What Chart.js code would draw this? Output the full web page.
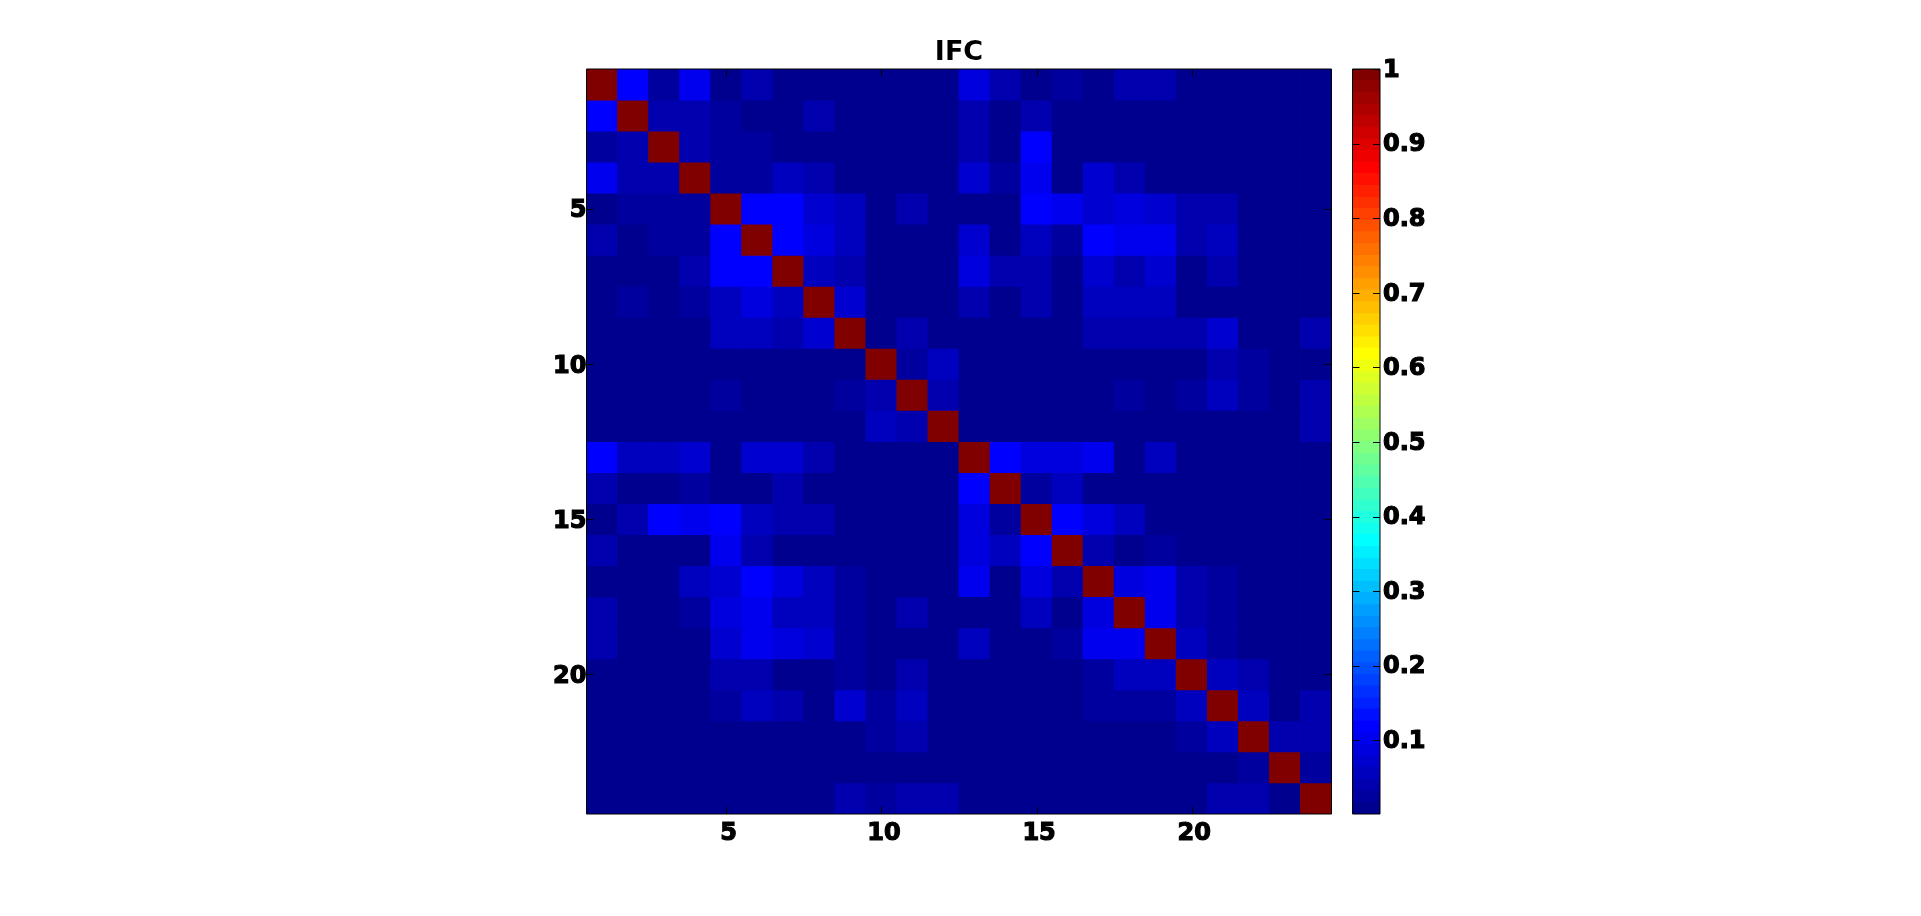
<!DOCTYPE html>
<html>
<head>
<meta charset="utf-8">
<title>IFC</title>
<script src="https://cdn.jsdelivr.net/npm/chart.js@4"></script>
<style>
  html, body { margin: 0; padding: 0; background: #fff; overflow: hidden; }
  canvas { position: absolute; top: 0; }
  #matrix_chart { left: 0; }
  #colorbar_chart { left: 1340px; }
</style>
</head>
<body>
<canvas id="matrix_chart" width="1921" height="916"></canvas>
<canvas id="colorbar_chart" width="120" height="916"></canvas>
<script>
const titleText = "IFC";
const regions = [1,2,3,4,5,6,7,8,9,10,11,12,13,14,15,16,17,18,19,20,21,22,23,24];
const axisTicks = [5,10,15,20];
const colorbarTicks = [0.1,0.2,0.3,0.4,0.5,0.6,0.7,0.8,0.9,1];

const row1  = [1,.118,.025,.103,.009,.04,.009,.009,.009,.009,.009,.009,.087,.04,.009,.025,.009,.04,.04,.009,.009,.009,.009,.009];
const row2  = [.118,1,.04,.04,.025,.009,.009,.04,.009,.009,.009,.009,.04,.009,.04,.009,.009,.009,.009,.009,.009,.009,.009,.009];
const row3  = [.025,.04,1,.04,.025,.025,.009,.009,.009,.009,.009,.009,.04,.009,.118,.009,.009,.009,.009,.009,.009,.009,.009,.009];
const row4  = [.103,.04,.04,1,.025,.025,.056,.04,.009,.009,.009,.009,.071,.025,.103,.009,.071,.04,.009,.009,.009,.009,.009,.009];
const row5  = [.009,.025,.025,.025,1,.118,.118,.071,.056,.009,.04,.009,.009,.009,.118,.103,.071,.087,.071,.04,.04,.009,.009,.009];
const row6  = [.04,.009,.025,.025,.118,1,.118,.087,.056,.009,.009,.009,.071,.009,.056,.025,.118,.103,.103,.04,.056,.009,.009,.009];
const row7  = [.009,.009,.009,.04,.118,.118,1,.056,.04,.009,.009,.009,.087,.04,.04,.009,.071,.04,.071,.009,.04,.009,.009,.009];
const row8  = [.009,.025,.009,.025,.056,.087,.056,1,.071,.009,.009,.009,.04,.009,.04,.009,.056,.056,.056,.009,.009,.009,.009,.009];
const row9  = [.009,.009,.009,.009,.056,.056,.04,.071,1,.009,.04,.009,.009,.009,.009,.009,.04,.04,.04,.04,.071,.009,.009,.04];
const row10 = [.009,.009,.009,.009,.009,.009,.009,.009,.009,1,.025,.056,.009,.009,.009,.009,.009,.009,.009,.009,.04,.025,.009,.009];
const row11 = [.009,.009,.009,.009,.025,.009,.009,.009,.025,.04,1,.04,.009,.009,.009,.009,.009,.025,.009,.025,.056,.025,.009,.04];
const row12 = [.009,.009,.009,.009,.009,.009,.009,.009,.009,.056,.04,1,.009,.009,.009,.009,.009,.009,.009,.009,.009,.009,.009,.04];
const row13 = [.118,.056,.056,.071,.009,.071,.071,.04,.009,.009,.009,.009,1,.118,.087,.087,.103,.009,.056,.009,.009,.009,.009,.009];
const row14 = [.04,.009,.009,.025,.009,.009,.04,.009,.009,.009,.009,.009,.118,1,.025,.056,.009,.009,.009,.009,.009,.009,.009,.009];
const row15 = [.009,.04,.118,.103,.118,.056,.04,.04,.009,.009,.009,.009,.087,.025,1,.118,.087,.056,.009,.009,.009,.009,.009,.009];
const row16 = [.04,.009,.009,.009,.103,.04,.009,.009,.009,.009,.009,.009,.087,.056,.118,1,.04,.009,.025,.009,.009,.009,.009,.009];
const row17 = [.009,.009,.009,.056,.071,.118,.087,.056,.025,.009,.009,.009,.103,.009,.087,.04,1,.087,.103,.04,.025,.009,.009,.009];
const row18 = [.04,.009,.009,.025,.087,.103,.056,.056,.025,.009,.04,.009,.009,.009,.056,.009,.087,1,.103,.04,.025,.009,.009,.009];
const row19 = [.04,.009,.009,.009,.071,.103,.087,.071,.025,.009,.009,.009,.056,.009,.009,.025,.103,.103,1,.056,.025,.009,.009,.009];
const row20 = [.009,.009,.009,.009,.04,.04,.009,.009,.025,.009,.04,.009,.009,.009,.009,.009,.025,.056,.056,1,.056,.04,.009,.009];
const row21 = [.009,.009,.009,.009,.025,.056,.04,.009,.071,.025,.056,.009,.009,.009,.009,.009,.025,.025,.025,.056,1,.056,.009,.04];
const row22 = [.009,.009,.009,.009,.009,.009,.009,.009,.009,.025,.04,.009,.009,.009,.009,.009,.009,.009,.009,.025,.056,1,.04,.04];
const row23 = [.009,.009,.009,.009,.009,.009,.009,.009,.009,.009,.009,.009,.009,.009,.009,.009,.009,.009,.009,.009,.009,.025,1,.025];
const row24 = [.009,.009,.009,.009,.009,.009,.009,.009,.04,.025,.04,.04,.009,.009,.009,.009,.009,.009,.009,.009,.04,.04,.009,1];
const matrixRows = [row1,row2,row3,row4,row5,row6,row7,row8,row9,row10,row11,row12,row13,row14,row15,row16,row17,row18,row19,row20,row21,row22,row23,row24];

// lower edge of each colorbar band, top edge of the last one is 1
const bandEdges = [.0012,.017,.032,.048,.064,.079,.095,.11,.126,.142,.157,.173,.188,.204,.22,.235,.251,.266,.282,.298,.313,.329,.344,.36,.376,.391,.407,.422,.438,.454,.469,.485,.501,.516,.532,.548,.563,.579,.594,.61,.626,.641,.657,.672,.688,.704,.719,.735,.75,.766,.782,.797,.813,.828,.844,.86,.875,.891,.906,.922,.938,.953,.969,.984,1];
const jet = [
  "#00008f","#00009f","#0000af","#0000bf","#0000cf","#0000df","#0000ef","#0000ff",
  "#0010ff","#0020ff","#0030ff","#0040ff","#0050ff","#0060ff","#0070ff","#0080ff",
  "#008fff","#009fff","#00afff","#00bfff","#00cfff","#00dfff","#00efff","#00ffff",
  "#10ffef","#20ffdf","#30ffcf","#40ffbf","#50ffaf","#60ff9f","#70ff8f","#80ff80",
  "#8fff70","#9fff60","#afff50","#bfff40","#cfff30","#dfff20","#efff10","#ffff00",
  "#ffef00","#ffdf00","#ffcf00","#ffbf00","#ffaf00","#ff9f00","#ff8f00","#ff8000",
  "#ff7000","#ff6000","#ff5000","#ff4000","#ff3000","#ff2000","#ff1000","#ff0000",
  "#ef0000","#df0000","#cf0000","#bf0000","#af0000","#9f0000","#8f0000","#800000"
];

function colorOf(value) {
  let i = jet.length - 1;
  while (i > 0 && value < bandEdges[i]) i--;
  return jet[i];
}

// box round the plot and the short inward ticks, matlab style
const boxTicks = {
  id: "boxTicks",
  afterDatasetsDraw(chart) {
    const { ctx, chartArea: a, scales } = chart;
    const len = 7;
    ctx.save();
    ctx.strokeStyle = "#000";
    ctx.lineWidth = 1;
    ctx.beginPath();
    if (scales.x.options.display) {
      scales.x.ticks.forEach(t => {
        const px = Math.round(scales.x.getPixelForValue(t.value)) + 0.5;
        ctx.moveTo(px, a.top); ctx.lineTo(px, a.top + len);
        ctx.moveTo(px, a.bottom); ctx.lineTo(px, a.bottom - len);
      });
    }
    scales.y.ticks.forEach(t => {
      const py = Math.round(scales.y.getPixelForValue(t.value)) + 0.5;
      ctx.moveTo(a.left, py); ctx.lineTo(a.left + len, py);
      ctx.moveTo(a.right, py); ctx.lineTo(a.right - len, py);
    });
    ctx.rect(a.left, a.top, a.right - a.left, a.bottom - a.top);
    ctx.stroke();
    ctx.restore();
  }
};

const tickFont = { family: "'DejaVu Sans'", weight: "bold", size: 24 };

const matrixData = {
  datasets: matrixRows.map((row, r) => ({
    data: row.map((v, c) => ({ x: regions[c], y: [regions[r] - 0.5, regions[r] + 0.5] })),
    backgroundColor: row.map(colorOf),
    borderWidth: 0,
    inflateAmount: 0.4,
    barPercentage: 1,
    categoryPercentage: 1,
    grouped: false
  }))
};

new Chart(document.getElementById("matrix_chart"), {
  type: "bar",
  data: matrixData,
  plugins: [boxTicks],
  options: {
    responsive: false,
    animation: false,
    layout: { padding: { right: 589.5 } },
    plugins: {
      legend: { display: false },
      tooltip: { enabled: false },
      title: {
        display: true,
        text: titleText,
        fullSize: false,
        color: "#000",
        font: { family: "'DejaVu Sans'", weight: "bold", size: 27, lineHeight: 1 },
        padding: { top: 39, bottom: 3 }
      }
    },
    scales: {
      x: {
        type: "linear",
        offset: false,
        min: 0.5,
        max: 24.5,
        grid: { display: false, drawTicks: false },
        border: { display: false },
        afterBuildTicks: s => { s.ticks = axisTicks.map(value => ({ value })); },
        afterFit: s => { s.height = 102; },
        ticks: { color: "#000", font: tickFont, padding: 5, labelOffset: 2.5, maxRotation: 0, autoSkip: false, textStrokeColor: "#000", textStrokeWidth: 1.2, callback: v => String(v) }
      },
      y: {
        type: "linear",
        reverse: true,
        min: 0.5,
        max: 24.5,
        grid: { display: false, drawTicks: false },
        border: { display: false },
        afterBuildTicks: s => { s.ticks = axisTicks.map(value => ({ value })); },
        afterFit: s => { s.width = 586.5; },
        ticks: { color: "#000", font: tickFont, padding: 0, labelOffset: 2.5, autoSkip: false, textStrokeColor: "#000", textStrokeWidth: 1.2, callback: v => String(v) }
      }
    }
  }
});

new Chart(document.getElementById("colorbar_chart"), {
  type: "bar",
  data: {
    labels: [""],
    datasets: jet.map((c, i) => ({
      data: [[bandEdges[i], bandEdges[i + 1]]],
      backgroundColor: c,
      borderWidth: 0,
      inflateAmount: 0.4,
      barPercentage: 1,
      categoryPercentage: 1,
      grouped: false
    }))
  },
  plugins: [boxTicks],
  options: {
    responsive: false,
    animation: false,
    layout: { padding: { left: 12.5, top: 69, bottom: 102 } },
    plugins: { legend: { display: false }, tooltip: { enabled: false } },
    scales: {
      x: { display: false },
      y: {
        position: "right",
        min: 0.0012,
        max: 1,
        grid: { display: false, drawTicks: false },
        border: { display: false },
        afterBuildTicks: s => { s.ticks = colorbarTicks.map(value => ({ value })); },
        afterFit: s => { s.width = 80; },
        ticks: { color: "#000", font: tickFont, padding: 3, labelOffset: 1.5, autoSkip: false, textStrokeColor: "#000", textStrokeWidth: 1.2, callback: v => String(v) }
      }
    }
  }
});
</script>
</body>
</html>
